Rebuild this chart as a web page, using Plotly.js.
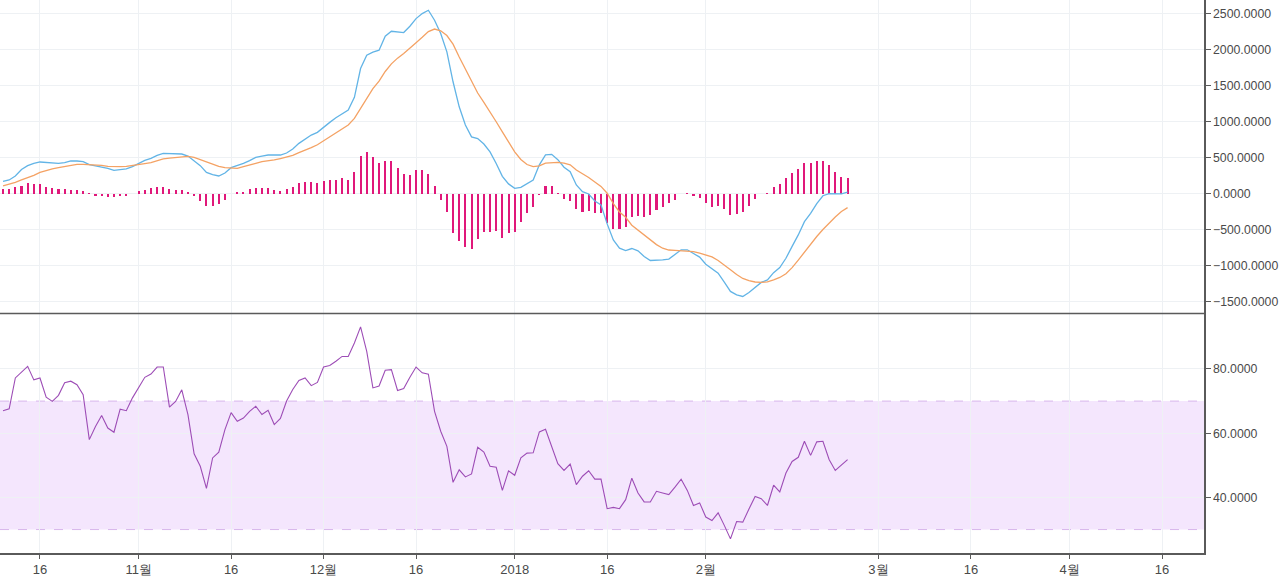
<!DOCTYPE html>
<html>
<head>
<meta charset="utf-8">
<script src="https://cdn.plot.ly/plotly-3.0.1.min.js"></script>
<style>html,body{margin:0;padding:0;background:#fff;}#chart{width:1280px;height:577px;}</style>
</head>
<body>
<div id="chart"></div>
<script>
// ---- data (daily, starting 2017-10-10) ----
const startDate = '2017-10-10';
const macdLine = [171,190,245,335,389,421,440,435,426,421,431,454,454,444,403,389,370,352,324,338,343,375,421,463,491,532,560,556,551,551,523,458,389,296,264,245,287,361,389,421,458,505,523,537,537,537,565,620,699,759,815,852,926,991,1056,1111,1162,1340,1741,1926,1968,1996,2190,2259,2255,2241,2329,2435,2505,2551,2412,2227,1972,1556,1208,954,790,765,690,580,420,240,135,74,88,140,190,400,540,546,472,368,306,120,28,-5,-102,-157,-421,-644,-759,-792,-764,-796,-875,-931,-921,-921,-912,-852,-782,-782,-838,-884,-982,-1051,-1107,-1232,-1361,-1408,-1431,-1375,-1301,-1236,-1200,-1100,-1030,-900,-735,-575,-390,-275,-140,-30,0,-5,-5,19];
const signalLine = [106,127,155,190,218,255,296,324,345,361,375,394,407,407,405,400,392,378,375,375,380,389,403,417,431,455,482,495,502,510,519,505,472,435,407,380,361,352,352,375,394,421,444,454,468,488,509,532,570,600,640,680,735,790,845,890,955,1046,1185,1310,1460,1565,1699,1805,1885,1950,2030,2100,2175,2255,2290,2265,2200,2080,1900,1740,1570,1400,1270,1140,1000,860,720,580,475,405,375,385,425,435,435,425,400,329,280,225,162,100,5,-140,-255,-329,-440,-510,-570,-650,-710,-760,-785,-790,-792,-796,-806,-829,-852,-880,-930,-1000,-1060,-1125,-1181,-1210,-1230,-1236,-1227,-1199,-1167,-1115,-1030,-925,-815,-700,-597,-500,-405,-325,-250,-195];
const histogram = [65,65,97,111,148,134,134,97,79,65,65,51,46,32,5,-28,-28,-51,-51,-32,-32,-3,32,51,83,97,97,65,51,51,19,-32,-102,-167,-167,-148,-88,-9,19,28,65,79,79,79,51,30,65,97,148,162,162,148,180,194,194,213,194,296,528,579,509,426,458,458,361,278,264,329,329,278,111,-85,-262,-551,-662,-745,-764,-630,-528,-528,-514,-616,-551,-528,-398,-264,-181,-14,111,111,5,-74,-97,-218,-250,-236,-264,-264,-412,-491,-495,-463,-329,-306,-320,-296,-227,-181,-134,-88,0,14,-32,-56,-134,-181,-171,-218,-296,-278,-250,-167,-74,0,14,93,134,213,292,343,426,426,458,458,394,296,227,213];
const rsi = [67.0,67.6,77.2,79.1,80.8,76.6,77.2,71.2,69.9,71.8,75.7,76.2,75.1,72.0,58.0,62.1,65.5,61.6,60.3,67.5,67.0,71.0,74.3,77.4,78.4,80.6,80.6,68.1,69.9,73.5,65.8,53.6,49.7,42.8,52.3,54.1,61.1,66.4,63.7,64.7,66.8,68.4,65.8,67.1,62.7,64.6,70.0,73.6,76.4,77.2,74.8,75.8,80.6,81.1,82.4,83.9,83.9,88.1,93.1,85.5,74.1,74.7,79.6,79.8,73.3,73.9,77.4,80.6,78.8,78.4,66.8,60.6,55.9,44.7,48.6,46.4,47.3,55.6,54.1,49.7,49.4,42.2,48.3,46.9,52.3,53.8,53.9,60.4,61.2,56.1,50.5,48.4,50.4,44.0,46.6,48.3,45.7,45.7,36.5,36.9,36.5,39.3,46.0,41.4,38.6,38.6,41.9,41.4,40.9,43.2,45.7,42.2,37.5,38.3,33.9,32.8,35.2,31.3,27.1,32.5,32.3,36.4,40.3,39.6,37.5,43.8,41.7,47.6,51.2,52.5,57.5,53.1,57.3,57.5,51.8,48.4,50.1,51.8];
const rsiBand = [30, 70];
const tickDates = ['2017-10-16','2017-11-01','2017-11-16','2017-12-01','2017-12-16','2018-01-01','2018-01-16','2018-02-01','2018-03-01','2018-03-16','2018-04-01','2018-04-16'];
const tickLabels = ['16','11월','16','12월','16','2018','16','2월','3월','16','4월','16'];

const dates = [];
const t0 = Date.parse(startDate + 'T00:00:00Z');
for (let i = 0; i < rsi.length; i++) {
  dates.push(new Date(t0 + i * 86400000).toISOString().slice(0, 10));
}

const gridC = '#eef1f4';
const axisC = '#5a5a5a';
const fontC = '#4a4a4a';

const traces = [
  {x: dates, y: histogram, type: 'bar', xaxis: 'x', yaxis: 'y', width: 8 * 3600 * 1000,
   marker: {color: '#e0187a', line: {width: 0}}, hoverinfo: 'x+y', name: 'Histogram'},
  {x: dates, y: macdLine, type: 'scatter', mode: 'lines', xaxis: 'x', yaxis: 'y',
   line: {color: '#62b4e6', width: 1.3}, name: 'MACD'},
  {x: dates, y: signalLine, type: 'scatter', mode: 'lines', xaxis: 'x', yaxis: 'y',
   line: {color: '#f4a264', width: 1.3}, name: 'Signal'},
  {x: dates, y: rsi, type: 'scatter', mode: 'lines', xaxis: 'x', yaxis: 'y2',
   line: {color: '#9d4db6', width: 1.1}, name: 'RSI'}
];

const split = 239.6 / 553;

const layout = {
  width: 1280, height: 577,
  margin: {l: 0, r: 76, t: 0, b: 24, pad: 0},
  paper_bgcolor: '#ffffff', plot_bgcolor: 'rgba(0,0,0,0)',
  showlegend: false,
  bargap: 0,
  font: {family: 'Liberation Sans, Arial, Helvetica, sans-serif', size: 13, color: fontC},
  xaxis: {
    type: 'date', anchor: 'y2',
    range: ['2017-10-09 12:18', '2018-04-22 19:30'],
    tickvals: tickDates, ticktext: tickLabels,
    showgrid: true, gridcolor: gridC, gridwidth: 1,
    showline: true, linecolor: axisC, linewidth: 1.5,
    ticks: 'outside', ticklen: 4, tickcolor: axisC,
    tickfont: {size: 13, color: fontC},
    zeroline: false
  },
  yaxis: {
    domain: [split, 1], side: 'right', anchor: 'x',
    range: [-1667, 2694],
    tick0: 0, dtick: 500, tickformat: '.4f',
    showgrid: true, gridcolor: gridC, gridwidth: 1,
    showline: true, linecolor: axisC, linewidth: 1.5,
    ticks: 'outside', ticklen: 5, tickcolor: axisC,
    tickfont: {size: 12.3, color: fontC},
    zeroline: false
  },
  yaxis2: {
    domain: [0, split], side: 'right', anchor: 'x',
    range: [22.7, 97.3],
    tickvals: [40, 60, 80], tickformat: '.4f',
    showgrid: true, gridcolor: gridC, gridwidth: 1,
    showline: true, linecolor: axisC, linewidth: 1.5,
    ticks: 'outside', ticklen: 5, tickcolor: axisC,
    tickfont: {size: 12.3, color: fontC},
    zeroline: false
  },
  shapes: [
    {type: 'rect', xref: 'paper', yref: 'y2', x0: 0, x1: 1, y0: rsiBand[0], y1: rsiBand[1],
     fillcolor: 'rgba(236,214,252,0.6)', line: {width: 0}, layer: 'below'},
    {type: 'line', xref: 'paper', yref: 'y2', x0: 0, x1: 1, y0: rsiBand[1], y1: rsiBand[1],
     line: {color: '#d8b6ec', width: 1, dash: 'dash'}, layer: 'below'},
    {type: 'line', xref: 'paper', yref: 'y2', x0: 0, x1: 1, y0: rsiBand[0], y1: rsiBand[0],
     line: {color: '#d8b6ec', width: 1, dash: 'dash'}, layer: 'below'},
    {type: 'line', xref: 'paper', yref: 'paper', x0: 0, x1: 1, y0: split, y1: split,
     line: {color: axisC, width: 1.5}}
  ]
};

Plotly.newPlot('chart', traces, layout, {displayModeBar: false, staticPlot: true});
</script>
</body>
</html>
